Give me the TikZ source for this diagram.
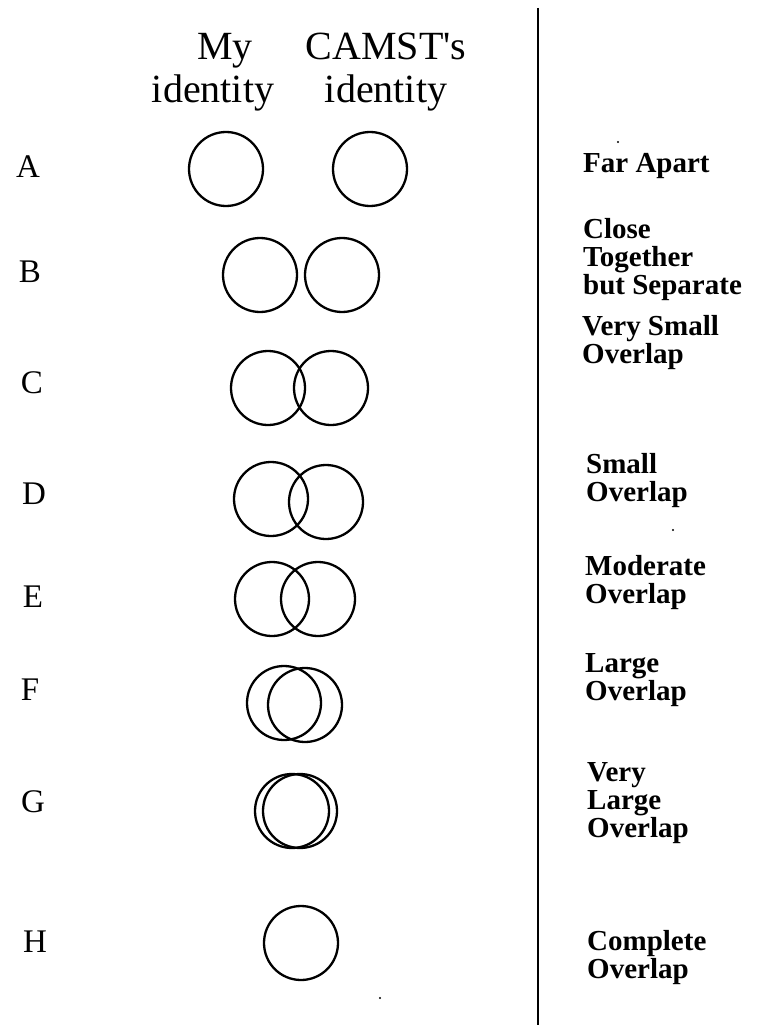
\documentclass[tikz,border=0pt]{standalone}
\usepackage{fontspec}
\setmainfont{Liberation Serif}
\begin{document}
\begin{tikzpicture}[x=1pt,y=-1pt,
  ring/.style={draw=black,circle,line width=2.3pt,minimum size=74pt,inner sep=0pt},
  head/.style={font=\fontsize{40}{44}\selectfont,inner sep=0pt,anchor=base},
  letter/.style={font=\fontsize{33}{36}\selectfont,inner sep=0pt},
  lab/.style={font=\fontsize{29}{28}\selectfont\bfseries,align=left,anchor=west,inner sep=0pt},
  speck/.style={fill=black,circle,inner sep=0pt,minimum size=2.2pt}]
\useasboundingbox (0,0) rectangle (757,1032);
\fill[white] (0,0) rectangle (757,1032);
% headers
\node[head] (my) at (225,60) {My};
\node[head] (myid) at (213,103) {identity};
\node[head] (cam) at (386,60) {CAMST\XeTeXglyph\XeTeXcharglyph"0027 s};
\node[head] (camid) at (386,103) {identity};
% divider
\coordinate (divtop) at (538,8);
\coordinate (divbot) at (538,1025);
\draw[line width=2pt] (divtop) -- (divbot);
% row letters
\node[letter] (lA) at (28,167) {A};
\node[letter] (lB) at (30,272) {B};
\node[letter] (lC) at (32,383) {C};
\node[letter] (lD) at (34,494) {D};
\node[letter] (lE) at (33,597) {E};
\node[letter] (lF) at (30,690) {F};
\node[letter] (lG) at (33,802) {G};
\node[letter] (lH) at (35,942) {H};
% circles
\node[ring] (A1) at (226,169) {};
\node[ring] (A2) at (370,169) {};
\node[ring] (B1) at (260,275) {};
\node[ring] (B2) at (342,275) {};
\node[ring] (C1) at (268,388) {};
\node[ring] (C2) at (331,388) {};
\node[ring] (D1) at (271,499) {};
\node[ring] (D2) at (326,502) {};
\node[ring] (E1) at (272,599) {};
\node[ring] (E2) at (318,599) {};
\node[ring] (F1) at (284,703) {};
\node[ring] (F2) at (305,705) {};
\node[ring] (G1) at (292,811) {};
\node[ring] (G2) at (300,811) {};
\node[ring] (H1) at (301,943) {};
% labels
\node[lab] (tA) at (583,166) {Far Apart};
\node[lab] (tB) at (583,260) {Close\\Together\\but Separate};
\node[lab] (tC) at (582,343) {Very Small\\Overlap};
\node[lab] (tD) at (586,481) {Small\\Overlap};
\node[lab] (tE) at (585,583) {Moderate\\Overlap};
\node[lab] (tF) at (585,680) {Large\\Overlap};
\node[lab] (tG) at (587,803) {Very\\Large\\Overlap};
\node[lab] (tH) at (587,958) {Complete\\Overlap};
% specks
\node[speck] (s1) at (618,142) {};
\node[speck] (s2) at (673,530) {};
\node[speck] (s3) at (380,998) {};
\end{tikzpicture}
\end{document}
